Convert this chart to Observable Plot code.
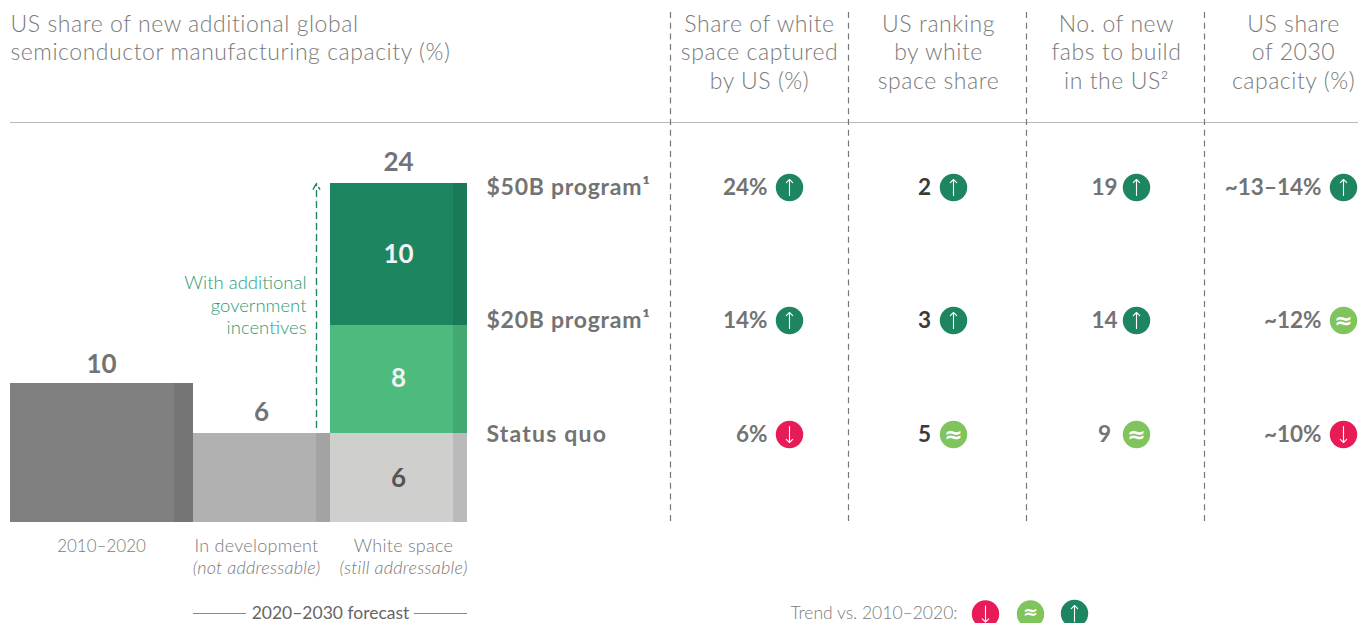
<!DOCTYPE html>
<html><head><meta charset="utf-8">
<script src="https://cdn.jsdelivr.net/npm/d3@7"></script>
<script src="https://cdn.jsdelivr.net/npm/@observablehq/plot@0.6"></script>
<style>html,body{margin:0;padding:0;background:#fff;overflow:hidden}svg{display:block}
.ls-head text{letter-spacing:.55px}.ls-prog text{letter-spacing:.75px}.ls-stat text{letter-spacing:1.2px}.ls-cat text{letter-spacing:.25px}</style>
</head><body><div id="chart"></div>
<script>
// ---- data ----
const categories = ["2010–2020", "In development", "White space"];
const categoryNotes = ["", "(not addressable)", "(still addressable)"];
const historic = 10, inDevelopment = 6;
const whiteSpaceSegments = [6, 8, 10];
const whiteSpaceTotal = 24;
const rows = ["$50B program¹", "$20B program¹", "Status quo"];
const shareCaptured = ["24%", "14%", "6%"];
const shareTrend = ["up", "up", "down"];
const ranking = ["2", "3", "5"];
const rankingTrend = ["up", "up", "flat"];
const newFabs = ["19", "14", "9"];
const fabsTrend = ["up", "up", "flat"];
const share2030 = ["~13–14%", "~12%", "~10%"];
const share2030Trend = ["up", "flat", "down"];
const title = ["US share of new additional global", "semiconductor manufacturing capacity (%)"];
const columnHeads = [
  ["Share of white", "space captured", "by US (%)"],
  ["US ranking", "by white", "space share"],
  ["No. of new", "fabs to build", "in the US²"],
  ["US share", "of 2030", "capacity (%)"]
];
const annotation = ["With additional", "government", "incentives"];

// ---- layout & style ----
const W = 1358, H = 623;
const FONT = "Lato, 'Open Sans', sans-serif";
const yDomain = [0, 6, 10, 14, 24], yRange = [522, 433, 383, 325, 183];
const warp = d3.scaleLinear().domain(yDomain).range(yRange);
const py = warp.invert; // pixel row -> value on the bar axis
const GREY = "#7a7a7a", BOLD = "#737373", DARK = "#3a3a3a";
const trendColor = {up: "#1d8560", flat: "#7fc45c", down: "#e71c57"};

function label(lines, x, yStart, step, o = {}) {
  return Plot.text(lines, {
    text: d => d, x: () => x, y: (d, i) => py(yStart + i * step),
    fontFamily: FONT, fontSize: 23, fill: GREY, fontWeight: 300, textAnchor: "middle", lineAnchor: "middle", ...o
  });
}
function bar(x1, x2, xs, v0, v1, fill, strip) {
  return [
    Plot.rect([0], {x1: () => x1, x2: () => xs, y1: () => v0, y2: () => v1, fill}),
    Plot.rect([0], {x1: () => xs, x2: () => x2, y1: () => v0, y2: () => v1, fill: strip})
  ];
}
function icon(trend, x, y, glyphY = y, glyphSize = 22) {
  const marks = [Plot.dot([trend], {x: () => x, y: () => py(y), r: 13.7, fill: trendColor[trend], stroke: "none"})];
  if (trend === "flat") {
    marks.push(Plot.text(["≈"], {x: () => x, y: () => py(glyphY), fill: "#fff", fontSize: glyphSize, fontWeight: 700, fontFamily: "'DejaVu Sans'", lineAnchor: "middle"}));
  } else {
    marks.push(Plot.vector([trend], {x: () => x, y: () => py(y), length: 16, rotate: trend === "up" ? 0 : 180, anchor: "middle", stroke: "#fff", strokeWidth: 1.1, shape: "arrow"}));
  }
  return marks;
}

const rowPx = [187.5, 320.5, 434.5];
const columns = [
  {head: 759, x: 767, anchor: "end",   cx: 789,  vals: shareCaptured, trend: shareTrend, fill: BOLD},
  {head: 938, x: 924, anchor: "middle", cx: 953, vals: ranking, trend: rankingTrend, fill: DARK},
  {head: 1116, x: 1104, anchor: "middle", cx: 1136, vals: newFabs, trend: fabsTrend, fill: BOLD},
  {head: 1293, x: 1321, anchor: "end",  cx: 1343, vals: share2030, trend: share2030Trend, fill: BOLD}
];
const separators = [670, 848, 1026, 1204];
const s = whiteSpaceSegments;
const big = {fontSize: 26, fontWeight: 700, fill: BOLD};
const cat = {fontSize: 18, className: "ls-cat"};

const marks = [
  // bars
  ...bar(10, 193, 174, 0, historic, "#808080", "#757575"),
  ...bar(193, 330, 316, 0, inDevelopment, "#b1b1b1", "#a3a3a3"),
  ...bar(330, 467, 453, 0, s[0], "#cfcfcd", "#bababa"),
  ...bar(330, 467, 453, s[0], s[0] + s[1], "#4cbb7d", "#44a970"),
  ...bar(330, 467, 453, s[0] + s[1], whiteSpaceTotal, "#1d8560", "#1a7a57"),
  // rules
  Plot.ruleY([py(122)], {x1: () => 10, x2: () => W, stroke: "#b9b9b9", strokeWidth: 1}),
  Plot.ruleX(separators, {y1: () => py(12), y2: () => 0, stroke: "#777", strokeWidth: 1.2, strokeDasharray: "6,4.7"}),
  // header
  label(title, 10, 24, 28.5, {textAnchor: "start", className: "ls-head"}),
  ...columnHeads.map((lines, i) => label(lines, columns[i].head, 24, 28.5, {className: "ls-head"})),
  // totals
  label([String(whiteSpaceTotal)], 398, 162, 0, big),
  label([String(historic)], 101, 364, 0, big),
  label([String(inDevelopment)], 261, 412, 0, big),
  label([String(s[2])], 398, 254, 0, {...big, fill: "#f2f2f2"}),
  label([String(s[1])], 398, 378, 0, {...big, fill: "#f2f2f2"}),
  label([String(s[0])], 398, 478, 0, {...big, fill: "#555"}),
  // annotation arrow
  Plot.arrow([0], {x1: () => 316, x2: () => 316, y1: () => py(427), y2: () => py(183), stroke: "#1d8560", strokeWidth: 1.4, strokeDasharray: "6,5", headLength: 7, inset: 0}),
  label(annotation, 306, 283, 22.5, {textAnchor: "end", fontSize: 18.5, fill: "#2f9a72"}),
  // category labels
  label([categories[0]], 101, 546, 0, {fontSize: 17}),
  label([categories[1]], 256, 546, 0, cat),
  label([categories[2]], 403, 546, 0, cat),
  label([categoryNotes[1]], 256, 568, 0, {...cat, fontStyle: "italic"}),
  label([categoryNotes[2]], 403, 568, 0, {...cat, fontStyle: "italic"}),
  // forecast bracket
  Plot.ruleY([py(613)], {x1: () => 193, x2: () => 246, stroke: "#8a8a8a", strokeWidth: 1.2}),
  Plot.ruleY([py(613)], {x1: () => 414, x2: () => 467, stroke: "#8a8a8a", strokeWidth: 1.2}),
  label(["2020–2030 forecast"], 330, 613, 0, {fontSize: 17.5, fontWeight: 400, fill: "#666"}),
  // rows
  ...rows.map((r, i) => label([r], 486, rowPx[i], 0, {textAnchor: "start", fontSize: 23, fontWeight: 700, fill: BOLD, className: i < 2 ? "ls-prog" : "ls-stat"})),
  // table
  ...columns.flatMap(c => c.vals.flatMap((v, i) => [
    label([v], c.x, rowPx[i], 0, {textAnchor: c.anchor, fontWeight: 700, fontSize: 22.5, fill: c.fill}),
    ...icon(c.trend[i], c.cx, rowPx[i] - 0.5)
  ])),
  // legend
  label(["Trend vs. 2010–2020:"], 957, 613, 0, {textAnchor: "end", fontSize: 17.5}),
  ...icon("down", 985, 613.5), ...icon("flat", 1030, 613.5, 611.5, 18), ...icon("up", 1074, 613)
];

const chart = Plot.plot({
  width: W, height: H, margin: 0,
  style: {background: "#fff", fontFamily: FONT, overflow: "hidden"},
  x: {domain: [0, W], range: [0, W], axis: null},
  y: {transform: warp, domain: [0, H], range: [0, H], axis: null},
  color: {type: "identity"},
  marks
});
document.getElementById("chart").append(chart);
</script></body></html>
